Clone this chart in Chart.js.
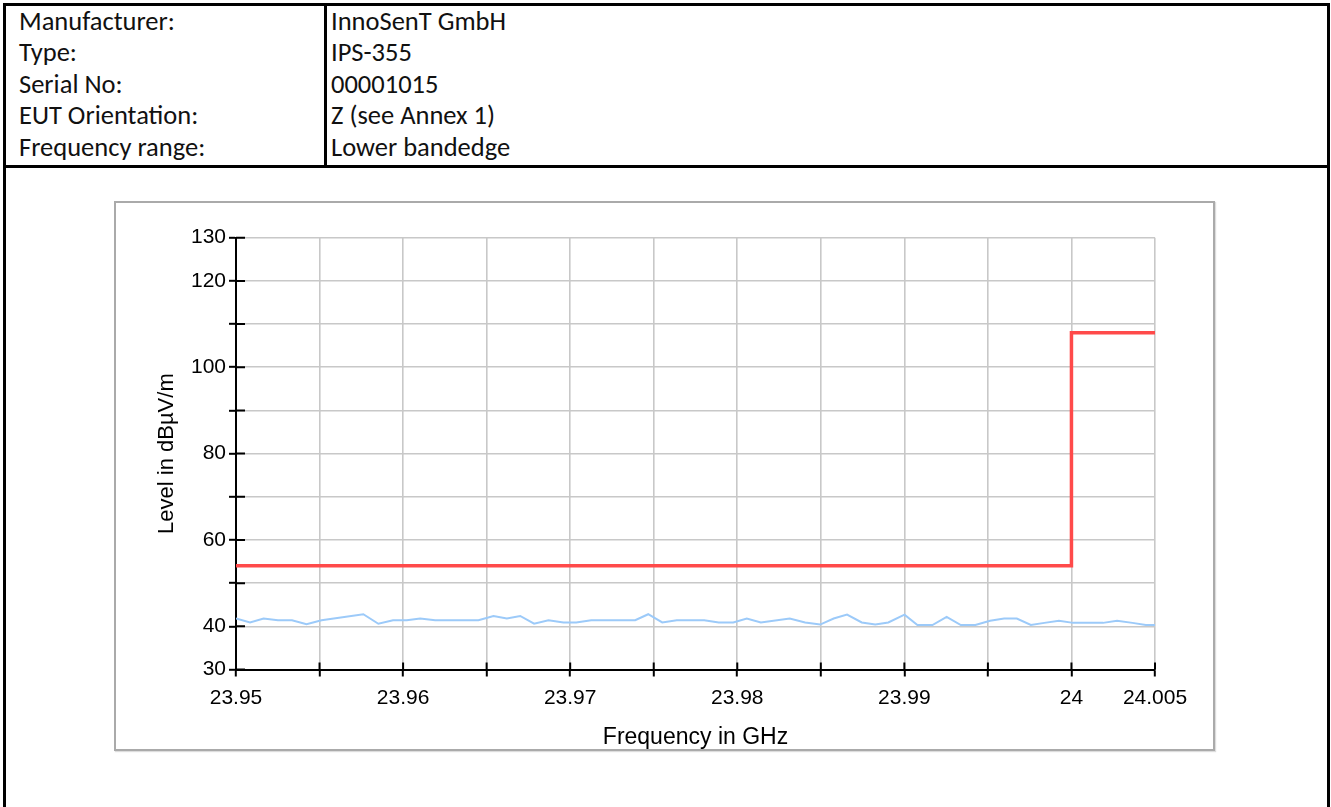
<!DOCTYPE html>
<html>
<head>
<meta charset="utf-8">
<script src="https://cdn.jsdelivr.net/npm/chart.js@4.4.1/dist/chart.umd.min.js"></script>
<style>
  body { margin: 0; background: #fff; width: 1331px; height: 807px; overflow: hidden; position: relative; }
  .frame { position: absolute; left: 3px; top: 3px; width: 1327px; height: 900px; border: 3px solid #000; box-sizing: border-box; }
  .hline { position: absolute; left: 3px; top: 165px; width: 1327px; height: 3px; background: #000; }
  .vline { position: absolute; left: 324px; top: 3px; width: 3px; height: 164px; background: #000; }
  .cell { position: absolute; height: 31.5px; line-height: 31.5px; font-family: Carlito, Calibri, Lato, sans-serif; font-size: 26.5px; color: #111; white-space: nowrap; }
  .box { position: absolute; left: 114px; top: 201px; width: 1101px; height: 550px; border: 2px solid #aaa; box-sizing: border-box; box-shadow: 1px 1px 1px #ddd; }
  #chart { position: absolute; left: 116px; top: 203px; }
</style>
</head>
<body>
<div class="frame"></div>
<div class="hline"></div>
<div class="vline"></div>
<div id="table"></div>
<div class="box"></div>
<canvas id="chart" width="1097" height="546"></canvas>
<script>
// header table
const headerLabels = ['Manufacturer:', 'Type:', 'Serial No:', 'EUT Orientation:', 'Frequency range:'];
const headerValues = ['InnoSenT GmbH', 'IPS-355', '00001015', 'Z (see Annex 1)', 'Lower bandedge'];

// chart data
const xTickValues = [23.95, 23.955, 23.96, 23.965, 23.97, 23.975, 23.98, 23.985, 23.99, 23.995, 24, 24.005];
const xTickLabels = [23.95, 23.96, 23.97, 23.98, 23.99, 24, 24.005];
const yTickValues = [30, 40, 50, 60, 70, 80, 90, 100, 110, 120, 130];
const yTickLabels = [30, 40, 60, 80, 100, 120, 130];

const limitFreq = [23.95, 24.0, 24.0, 24.005];
const limitLevel = [54, 54, 108, 108];

const traceFreq = [
  23.95000, 23.95084, 23.95165, 23.95251, 23.95335, 23.95422, 23.95512, 23.95762, 23.95852, 23.95940,
  23.96022, 23.96102, 23.96192, 23.96451, 23.96541, 23.96621, 23.96701, 23.96784, 23.96870, 23.96960,
  23.97036, 23.97126, 23.97389, 23.97467, 23.97551, 23.97638, 23.97802, 23.97889, 23.97976, 23.98057,
  23.98141, 23.98314, 23.98406, 23.98496, 23.98577, 23.98657, 23.98745, 23.98826, 23.98904, 23.99001,
  23.99078, 23.99168, 23.99253, 23.99338, 23.99425, 23.99513, 23.99597, 23.99673, 23.99757, 23.99838,
  23.99925, 24.00010, 24.00102, 24.00189, 24.00273, 24.00365, 24.00445, 24.00500
];
const traceLevel = [
  41.8, 40.9, 41.8, 41.4, 41.4, 40.5, 41.4, 42.8, 40.6, 41.4,
  41.4, 41.8, 41.4, 41.4, 42.4, 41.8, 42.4, 40.6, 41.4, 40.9,
  40.9, 41.4, 41.4, 42.8, 40.9, 41.4, 41.4, 40.9, 40.9, 41.8,
  40.9, 41.8, 40.9, 40.4, 41.8, 42.7, 40.9, 40.4, 40.9, 42.7,
  40.3, 40.3, 42.2, 40.3, 40.3, 41.3, 41.8, 41.8, 40.3, 40.8,
  41.3, 40.8, 40.8, 40.8, 41.3, 40.8, 40.3, 40.3
];

const table = document.getElementById('table');
headerLabels.forEach((t, i) => {
  const top = 5.7 + i * 31.5;
  table.insertAdjacentHTML('beforeend',
    `<div class="cell" style="left:19px;top:${top}px">${t}</div>` +
    `<div class="cell" style="left:331px;top:${top}px">${headerValues[i]}</div>`);
});

const key = v => Math.round(v * 1000) / 1000;
const xLabelSet = new Set(xTickLabels.map(key));
const yLabelSet = new Set(yTickLabels);

// ticks that cross the axis line (the library only draws the outer half)
const innerTicks = {
  id: 'innerTicks',
  afterDraw(chart) {
    const { ctx, scales: { x, y } } = chart;
    ctx.save();
    ctx.strokeStyle = '#000';
    ctx.lineWidth = 2;
    ctx.beginPath();
    x.ticks.forEach(t => {
      const px = x.getPixelForValue(t.value);
      ctx.moveTo(px, y.bottom);
      ctx.lineTo(px, y.bottom - 7);
    });
    y.ticks.forEach(t => {
      const py = y.getPixelForValue(t.value);
      ctx.moveTo(x.left, py);
      ctx.lineTo(x.left + 9, py);
    });
    ctx.stroke();
    ctx.restore();
  }
};

const font = { family: '"Liberation Sans", Arial, sans-serif', size: 21 };

new Chart(document.getElementById('chart'), {
  type: 'line',
  data: {
    datasets: [
      {
        data: traceFreq.map((f, i) => ({ x: f, y: traceLevel[i] })),
        borderColor: '#9ccaf9',
        borderWidth: 2,
        pointRadius: 0,
        tension: 0
      },
      {
        data: limitFreq.map((f, i) => ({ x: f, y: limitLevel[i] })),
        borderColor: '#ff4a4a',
        borderWidth: 3.5,
        pointRadius: 0,
        tension: 0
      }
    ]
  },
  options: {
    responsive: false,
    animation: false,
    layout: { padding: { top: 34.7, right: 58, left: 0, bottom: 0 } },
    plugins: { legend: { display: false }, tooltip: { enabled: false } },
    scales: {
      x: {
        type: 'linear',
        min: 23.95,
        max: 24.005,
        afterBuildTicks: s => { s.ticks = xTickValues.map(v => ({ value: v })); },
        afterFit: s => { s.height = 79.5; },
        grid: { color: '#c8c8c8', lineWidth: 1.6, tickColor: '#000', tickWidth: 2, tickLength: 7 },
        border: { color: '#000', width: 2 },
        ticks: {
          color: '#000', font, padding: 9, maxRotation: 0, autoSkip: false,
          callback: v => xLabelSet.has(key(v)) ? String(key(v)) : ''
        },
        title: {
          display: true, text: 'Frequency in GHz', color: '#000',
          font: { family: font.family, size: 23, lineHeight: 1 }, padding: { top: 0, bottom: 0 }
        }
      },
      y: {
        min: 30,
        max: 130,
        afterBuildTicks: s => { s.ticks = yTickValues.map(v => ({ value: v })); },
        afterFit: s => { s.width = 120; },
        grid: { color: '#c8c8c8', lineWidth: 1.6, tickColor: '#000', tickWidth: 2, tickLength: 7 },
        border: { color: '#000', width: 2 },
        ticks: {
          color: '#000', font, padding: 3,
          callback: v => yLabelSet.has(v) ? String(v) : ''
        },
        title: {
          display: true, text: 'Level in dBµV/m', color: '#000',
          font: { family: font.family, size: 22, lineHeight: 1.2 }, padding: { top: 37.5, bottom: 0 }
        }
      }
    }
  },
  plugins: [innerTicks]
});
</script>
</body>
</html>
